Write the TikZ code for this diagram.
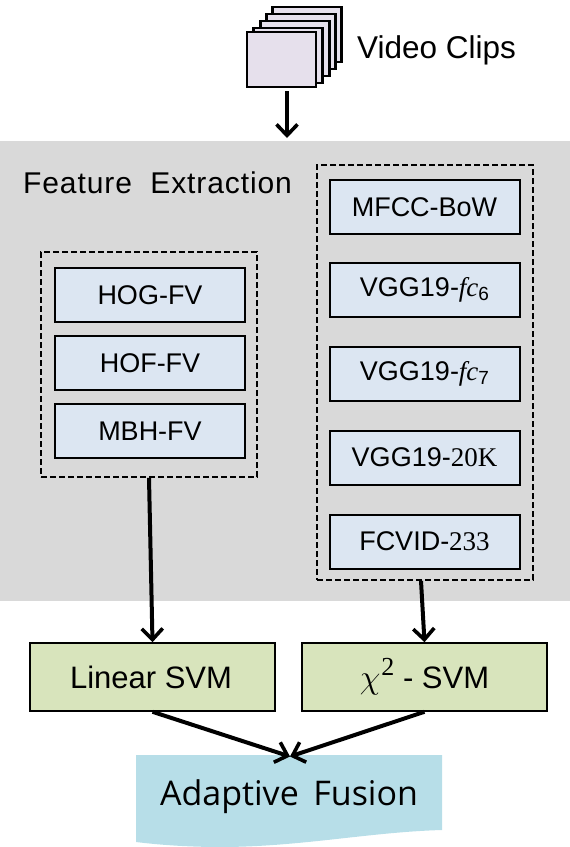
\documentclass[tikz,border=0pt]{standalone}
\usepackage{fontspec}
\setmainfont{Liberation Sans}
\newfontfamily\serifx{Liberation Serif}
\newfontfamily\fusionfont{Open Sans}
\usetikzlibrary{arrows.meta,calc}
\definecolor{panelgrey}{HTML}{D9D9D9}
\definecolor{featblue}{HTML}{DCE6F2}
\definecolor{svmgreen}{HTML}{D8E4BC}
\definecolor{fusionblue}{HTML}{B7DEE8}
\definecolor{cliplilac}{HTML}{E6E0EC}
\newcommand{\fsz}[1]{\fontsize{#1}{#1}\selectfont}
\tikzset{
  x=1pt,y=-1pt,
  featbox/.style={draw=black,line width=2pt,fill=featblue,minimum width=190pt,minimum height=54pt,inner sep=0pt,font=\fsz{27}},
  groupbox/.style={draw=black,line width=1.7pt,dash pattern=on 6pt off 3pt,inner sep=0pt},
  svmbox/.style={draw=black,line width=1.6pt,fill=svmgreen,minimum width=245pt,minimum height=68pt,inner sep=0pt,font=\fsz{31}},
  clipbox/.style={draw=black,line width=2.1pt,fill=cliplilac,minimum width=69pt,minimum height=55pt,inner sep=0pt},
  flow/.style={line width=4pt,-{Straight Barb[length=11pt,width=21pt,line width=3.6pt]}},
}
\begin{document}
\begin{tikzpicture}
\useasboundingbox (0,0) rectangle (570,847);
% panel
\fill[panelgrey] (0,141) rectangle (570,601);
\node[anchor=west,inner sep=0pt,font=\fsz{30}] (title) at (23,183) {\addfontfeature{LetterSpace=3}Feature \ Extraction};
% clips
\node[clipbox] (c5) at (307,34.5) {};
\node[clipbox] (c4) at (301,41.5) {};
\node[clipbox] (c3) at (295,48.5) {};
\node[clipbox] (c2) at (288,55.5) {};
\node[clipbox] (c1) at (281.5,59.5) {};
\node[anchor=west,inner sep=0pt,font=\fsz{31.5}] (cliplabel) at (357,50) {Video Clips};
\coordinate (panelin) at (287,138);
% left group
\node[groupbox,minimum width=216pt,minimum height=225pt] (lgroup) at (149,364.5) {};
\node[featbox] (hog) at (150,295) {HOG-FV};
\node[featbox] (hof) at (150,363) {HOF-FV};
\node[featbox] (mbh) at (150,431) {MBH-FV};
% right group
\node[groupbox,minimum width=216pt,minimum height=415pt] (rgroup) at (425,372.5) {};
\node[featbox] (mfcc) at (424.5,207) {MFCC-BoW};
\node[featbox] (fc6) at (424.5,290) {VGG19-{\serifx\itshape\fsz{27}fc}\raisebox{-4pt}{\fsz{19}6}};
\node[featbox] (fc7) at (424.5,374) {VGG19-{\serifx\itshape\fsz{27}fc}\raisebox{-4pt}{\fsz{19}7}};
\node[featbox] (k20) at (424.5,457.5) {VGG19-{\serifx 20K}};
\node[featbox] (fcv) at (424.5,541.5) {FCVID-{\serifx 233}};
% svm
\node[svmbox] (lin) at (152.5,677) {\hspace{-3pt}Linear SVM};
\node[svmbox] (chi) at (424.5,677) {\scalebox{1.35}{$\chi$}\hspace{1pt}\raisebox{13pt}{\serifx\fsz{26}2} - SVM};
% fusion
\fill[fusionblue] (136,755) -- (442,755) -- (442,830)
  .. controls (370,832) and (300,847) .. (220,847)
  .. controls (190,847) and (160,845) .. (136,842) -- cycle;
\node[inner sep=0pt,font={\fusionfont\fsz{34}}] (fus) at (289,797) {Adaptive \,Fusion};
\coordinate (fusin) at (290,756.5);
% connectors
\draw[flow] ([xshift=5.5pt]c1.south) ++(0,3) -- (panelin);
\draw[flow] (lgroup.south) -- (lin.north);
\draw[flow] ([xshift=-4pt]rgroup.south) -- (chi.north);
\draw[flow] (lin.south) -- (fusin);
\draw[flow] (chi.south) -- (fusin);
\end{tikzpicture}
\end{document}
